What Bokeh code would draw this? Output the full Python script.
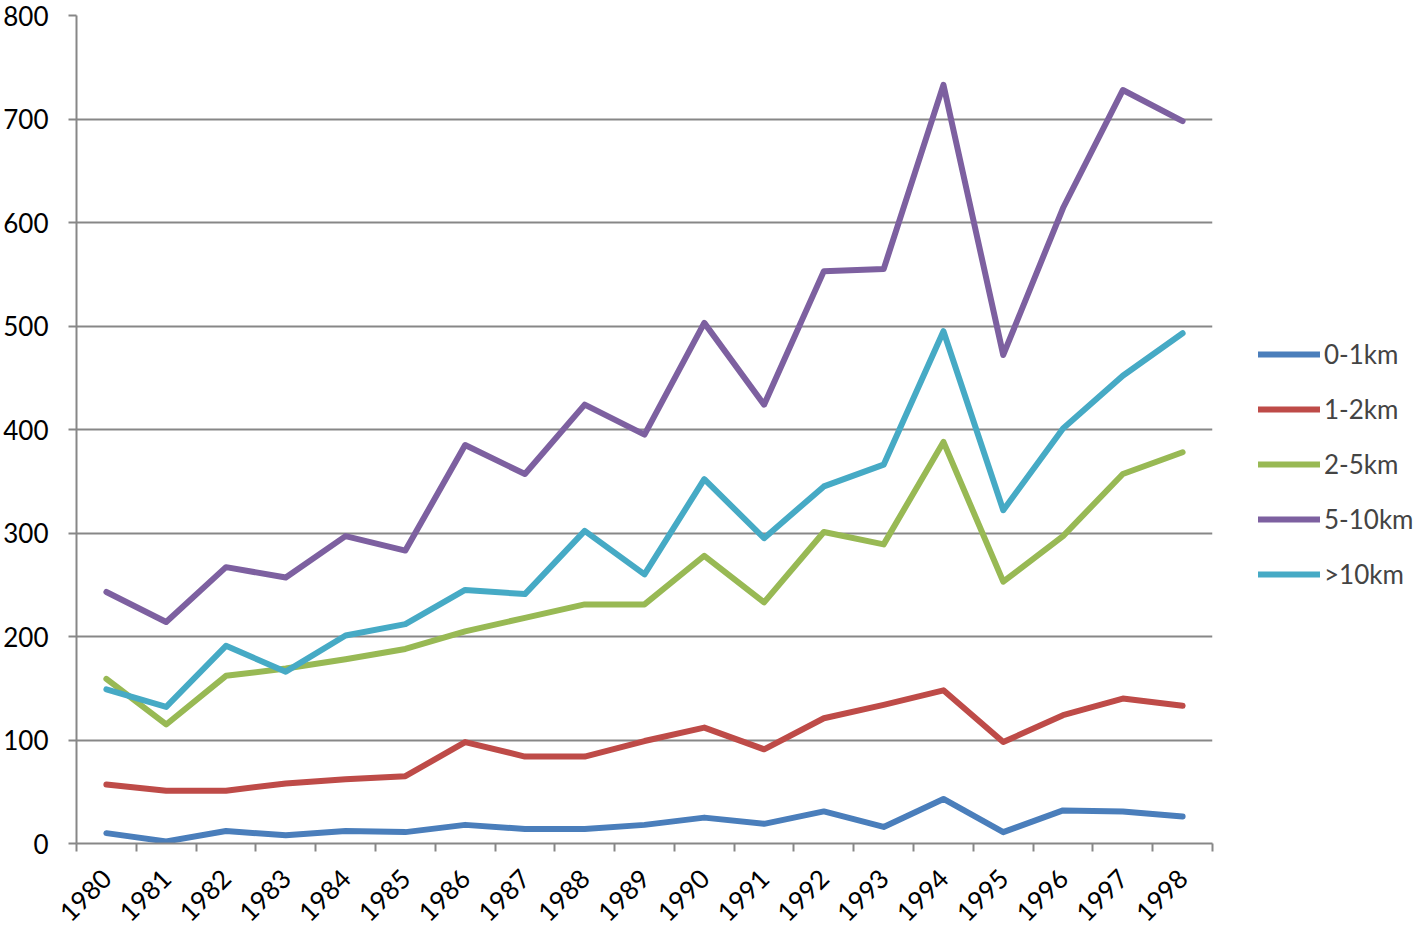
import math
from bokeh.plotting import figure
from bokeh.models import Range1d, FixedTicker, Legend, LegendItem
from bokeh.embed import file_html
from bokeh.resources import INLINE

years = [str(y) for y in range(1980, 1999)]
s_0_1 = [10, 2, 12, 8, 12, 11, 18, 14, 14, 18, 25, 19, 31, 16, 43, 11, 32, 31, 26]
s_1_2 = [57, 51, 51, 58, 62, 65, 98, 84, 84, 99, 112, 91, 121, 134, 148, 98, 124, 140, 133]
s_2_5 = [159, 115, 162, 169, 178, 188, 205, 218, 231, 231, 278, 233, 301, 289, 388, 253, 297, 357, 378]
s_5_10 = [243, 214, 267, 257, 297, 283, 385, 357, 424, 395, 503, 424, 553, 555, 733, 472, 614, 728, 698]
s_10p = [149, 132, 191, 166, 201, 212, 245, 241, 302, 260, 352, 295, 345, 366, 495, 322, 401, 452, 493]
series_names = ["0-1km", "1-2km", "2-5km", "5-10km", ">10km"]
series_vals = [s_0_1, s_1_2, s_2_5, s_5_10, s_10p]
colors = ["#4A7EBB", "#BE4B48", "#98B954", "#7D60A0", "#46AAC5"]
y_ticks = [0, 100, 200, 300, 400, 500, 600, 700, 800]

FONT = "Lato"
FS = "26px"
GRID = "#878787"

n = len(years)
xc = [i + 0.5 for i in range(n)]

p = figure(
    frame_width=1136, frame_height=828,
    min_border_left=74, min_border_top=15, min_border_bottom=80, min_border_right=0,
    x_range=Range1d(0, n), y_range=Range1d(0, 800),
    output_backend="svg", toolbar_location=None,
)
p.outline_line_color = None
p.background_fill_color = "white"

# y axis
p.yaxis.ticker = FixedTicker(ticks=y_ticks)
p.yaxis.axis_line_color = GRID
p.yaxis.axis_line_width = 2
p.yaxis.major_tick_line_color = GRID
p.yaxis.major_tick_line_width = 2
p.yaxis.major_tick_out = 8
p.yaxis.major_tick_in = 0
p.yaxis.minor_tick_line_color = None
p.yaxis.major_label_text_font = FONT
p.yaxis.major_label_text_font_size = FS
p.yaxis.major_label_text_color = "#000000"
p.yaxis.major_label_standoff = 20

# x axis: labels at centres, ticks at boundaries
p.xaxis.ticker = FixedTicker(ticks=xc, minor_ticks=list(range(n + 1)))
p.xaxis.major_label_overrides = {x: y for x, y in zip(xc, years)}
p.xaxis.major_tick_line_color = None
p.xaxis.minor_tick_line_color = GRID
p.xaxis.minor_tick_line_width = 2
p.xaxis.minor_tick_out = 8
p.xaxis.minor_tick_in = 0
p.xaxis.axis_line_color = GRID
p.xaxis.axis_line_width = 2
p.xaxis.major_label_orientation = math.pi / 4
p.xaxis.major_label_text_font = FONT
p.xaxis.major_label_text_font_size = FS
p.xaxis.major_label_text_color = "#000000"
p.xaxis.major_label_standoff = 22

p.xgrid.grid_line_color = None
p.ygrid.ticker = FixedTicker(ticks=y_ticks[1:])
p.ygrid.grid_line_color = GRID
p.ygrid.grid_line_width = 2

items = []
for name, vals, c in zip(series_names, series_vals, colors):
    r = p.line(xc, vals, line_color=c, line_width=6, line_cap="round", line_join="round")
    items.append(LegendItem(label=name, renderers=[r]))

legend = Legend(
    items=items, location=(46, 253),
    glyph_width=62, glyph_height=20, label_height=20,
    label_standoff=4, spacing=23, padding=0, margin=0,
    label_text_font=FONT, label_text_font_size=FS,
    border_line_color=None, background_fill_alpha=0,
)
p.add_layout(legend, "right")

open("out.html", "w").write(file_html(p, INLINE))
